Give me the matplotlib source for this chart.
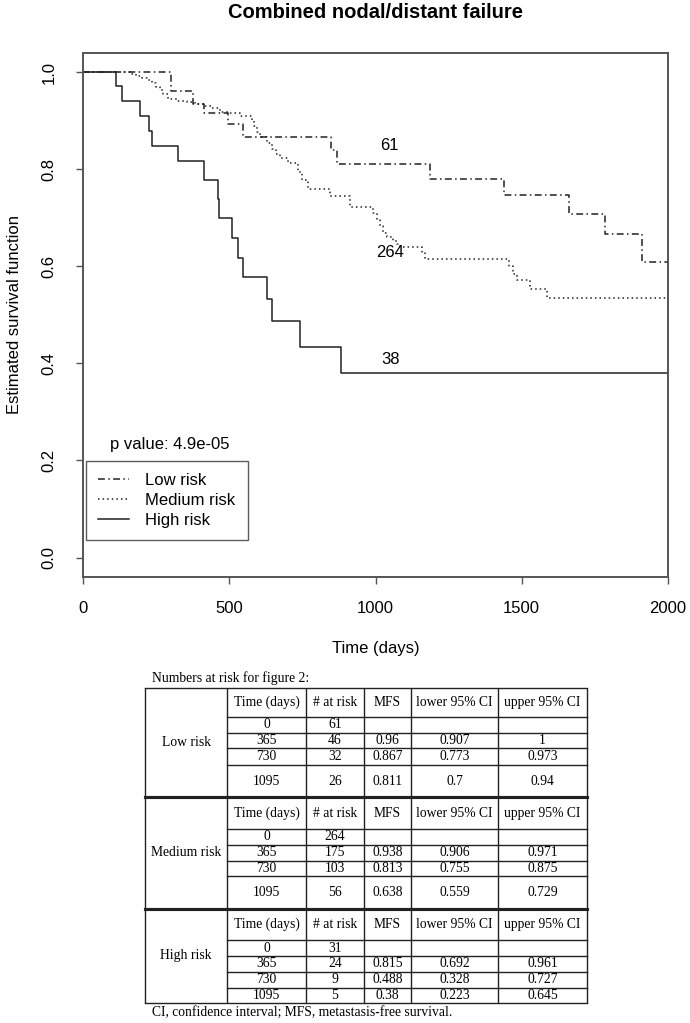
import matplotlib
matplotlib.use("Agg")
import matplotlib.pyplot as plt

# ---------------- data: survival curves ----------------
low_time = [0, 301, 375, 415, 497, 546, 847, 867, 1186, 1439, 1660, 1783, 1910, 2000]
low_surv = [1.0, 0.960, 0.935, 0.916, 0.892, 0.867, 0.840, 0.811, 0.780, 0.746, 0.708, 0.667, 0.608, 0.608]

med_time = [0, 160, 180, 200, 218, 235, 250, 263, 275, 292, 320, 354, 383, 417, 440, 470, 497,
            537, 577, 585, 594, 605, 628, 645, 660, 673, 700, 736, 750, 770, 844, 913, 992,
            1004, 1015, 1027, 1040, 1060, 1072, 1084, 1160, 1170, 1457, 1470, 1485, 1528, 1588, 2000]
med_surv = [1.0, 0.996, 0.992, 0.988, 0.984, 0.978, 0.970, 0.963, 0.955, 0.944, 0.941, 0.939, 0.935,
            0.929, 0.925, 0.918, 0.915, 0.910, 0.901, 0.888, 0.876, 0.866, 0.853, 0.842, 0.832,
            0.822, 0.813, 0.795, 0.778, 0.760, 0.744, 0.723, 0.710, 0.695, 0.683, 0.668, 0.660,
            0.652, 0.645, 0.639, 0.630, 0.615, 0.600, 0.585, 0.571, 0.553, 0.535, 0.535]

high_time = [0, 112, 132, 194, 225, 237, 326, 415, 463, 466, 511, 529, 546, 628, 645, 742, 882, 2000]
high_surv = [1.0, 0.971, 0.941, 0.910, 0.879, 0.848, 0.816, 0.778, 0.739, 0.700, 0.659, 0.618,
             0.577, 0.532, 0.488, 0.434, 0.381, 0.381]

series_labels = ["Low risk", "Medium risk", "High risk"]
curve_counts = ["61", "264", "38"]
count_pos_time = [1047, 1050, 1050]
count_pos_surv = [0.848, 0.628, 0.407]
p_value_text = "p value: 4.9e-05"

x_ticks = [0, 500, 1000, 1500, 2000]
y_ticks = [0.0, 0.2, 0.4, 0.6, 0.8, 1.0]
y_tick_labels = ["0.0", "0.2", "0.4", "0.6", "0.8", "1.0"]

# ---------------- data: numbers-at-risk table ----------------
table_title = "Numbers at risk for figure 2:"
table_header = ["Time (days)", "# at risk", "MFS", "lower 95% CI", "upper 95% CI"]
table_times = ["0", "365", "730", "1095"]
low_at_risk = ["61", "46", "32", "26"]
low_mfs = ["", "0.96", "0.867", "0.811"]
low_lower = ["", "0.907", "0.773", "0.7"]
low_upper = ["", "1", "0.973", "0.94"]
med_at_risk = ["264", "175", "103", "56"]
med_mfs = ["", "0.938", "0.813", "0.638"]
med_lower = ["", "0.906", "0.755", "0.559"]
med_upper = ["", "0.971", "0.875", "0.729"]
high_at_risk = ["31", "24", "9", "5"]
high_mfs = ["", "0.815", "0.488", "0.38"]
high_lower = ["", "0.692", "0.328", "0.223"]
high_upper = ["", "0.961", "0.727", "0.645"]
table_footer = "CI, confidence interval; MFS, metastasis-free survival."

# ---------------- figure ----------------
W, H = 690, 1023
fig = plt.figure(figsize=(W / 100, H / 100), dpi=100)
sans = ["Liberation Sans", "DejaVu Sans"]
serif = ["Liberation Serif", "DejaVu Serif"]
plt.rcParams["font.family"] = sans

ax_l, ax_r, ax_t, ax_b = 83, 668, 52.6, 577
ax = fig.add_axes([ax_l / W, 1 - ax_b / H, (ax_r - ax_l) / W, (ax_b - ax_t) / H])

line_col = "#222222"
styles = [(0, (4.5, 2.2, 1.0, 2.2)), (0, (1.0, 2.0)), "-"]
curves = [(low_time, low_surv), (med_time, med_surv), (high_time, high_surv)]
for (t, s), ls, lab in zip(curves, styles, series_labels):
    ax.step(t, s, where="post", color=line_col, lw=1.1, linestyle=ls, label=lab)

for txt, xt, ys in zip(curve_counts, count_pos_time, count_pos_surv):
    ax.text(xt, ys, txt, ha="center", va="center", fontsize=12, color="black")

ax.text(92, 0.233, p_value_text, ha="left", va="center", fontsize=12, color="black")

ax.set_xlim(0, 2000)
ax.set_ylim(-0.04, 1.04)
ax.set_xticks(x_ticks)
ax.set_xticklabels([str(v) for v in x_ticks])
ax.set_yticks(y_ticks)
ax.set_yticklabels(y_tick_labels, rotation=90, va="center")
spine_col = "#555555"
for sp in ax.spines.values():
    sp.set_color(spine_col)
    sp.set_linewidth(1.4)
ax.tick_params(axis="both", direction="out", length=5, width=1.0, color=spine_col,
               labelsize=12, labelcolor="black")
ax.tick_params(axis="x", pad=12)
ax.tick_params(axis="y", pad=14)

ax.set_xlabel("Time (days)", fontsize=12)
ax.set_ylabel("Estimated survival function", fontsize=12)
ax.xaxis.set_label_coords(0.5, (ax_b - 648) / (ax_b - ax_t))
ax.xaxis.label.set_va("center")
ax.yaxis.set_label_coords((15 - ax_l) / (ax_r - ax_l), 0.5)
ax.yaxis.label.set_va("center")

fig.text(376 / W, 1 - 12.7 / H, "Combined nodal/distant failure", ha="center", va="center",
         fontsize=14.5, fontweight="bold")

leg = ax.legend(loc="upper left",
                bbox_to_anchor=((85.7 - ax_l) / (ax_r - ax_l), (ax_b - 460.7) / (ax_b - ax_t)),
                borderaxespad=0, fontsize=12, frameon=True, fancybox=False,
                handlelength=1.86, handletextpad=0.95, labelspacing=0.28, borderpad=0.75)
leg.get_frame().set_edgecolor("#333333")
leg.get_frame().set_linewidth(1.0)

# ---------------- table (drawn on a full-figure overlay in pixel units) ----------------
tab = fig.add_axes([0, 0, 1, 1])
tab.set_xlim(0, W)
tab.set_ylim(H, 0)
tab.axis("off")
tab.patch.set_alpha(0)

col_edges = [145, 227.3, 305.7, 364.3, 410.7, 498.3, 586.7]
block_rows = [
    [687.7, 717.3, 732.7, 748.3, 765, 797.3],
    [797.3, 829, 845, 860.7, 876, 908.5],
    [908.5, 940, 956, 971.7, 987.7, 1003.3],
]
block_data = [
    [table_times, low_at_risk, low_mfs, low_lower, low_upper],
    [table_times, med_at_risk, med_mfs, med_lower, med_upper],
    [table_times, high_at_risk, high_mfs, high_lower, high_upper],
]
tcol = "#222222"
fs_t = 9.8
tab.text(151.5, 678.3, table_title, ha="left", va="center", fontsize=fs_t, family=serif)
for b, (rows, data, gname) in enumerate(zip(block_rows, block_data, series_labels)):
    top, bot = rows[0], rows[-1]
    for xe in col_edges:
        tab.plot([xe, xe], [top, bot], color=tcol, lw=1.0, solid_capstyle="butt")
    for ye in rows[1:-1]:
        tab.plot([col_edges[1], col_edges[-1]], [ye, ye], color=tcol, lw=1.0)
    tab.plot([col_edges[0], col_edges[-1]], [top, top], color=tcol,
             lw=2.2 if b > 0 else 1.0)
    tab.plot([col_edges[0], col_edges[-1]], [bot, bot], color=tcol,
             lw=2.2 if b < 2 else 1.0)
    tab.text((col_edges[0] + col_edges[1]) / 2, (top + bot) / 2, gname, ha="center",
             va="center", fontsize=fs_t, family=serif)
    for j, h in enumerate(table_header):
        tab.text((col_edges[j + 1] + col_edges[j + 2]) / 2, (rows[0] + rows[1]) / 2, h,
                 ha="center", va="center", fontsize=fs_t, family=serif)
    for r in range(4):
        yc = (rows[r + 1] + rows[r + 2]) / 2
        for j, col in enumerate(data):
            tab.text((col_edges[j + 1] + col_edges[j + 2]) / 2, yc, col[r], ha="center",
                     va="center", fontsize=fs_t, family=serif)
tab.text(151.5, 1012.3, table_footer, ha="left", va="center", fontsize=fs_t, family=serif)

fig.savefig("out.png", dpi=100)
